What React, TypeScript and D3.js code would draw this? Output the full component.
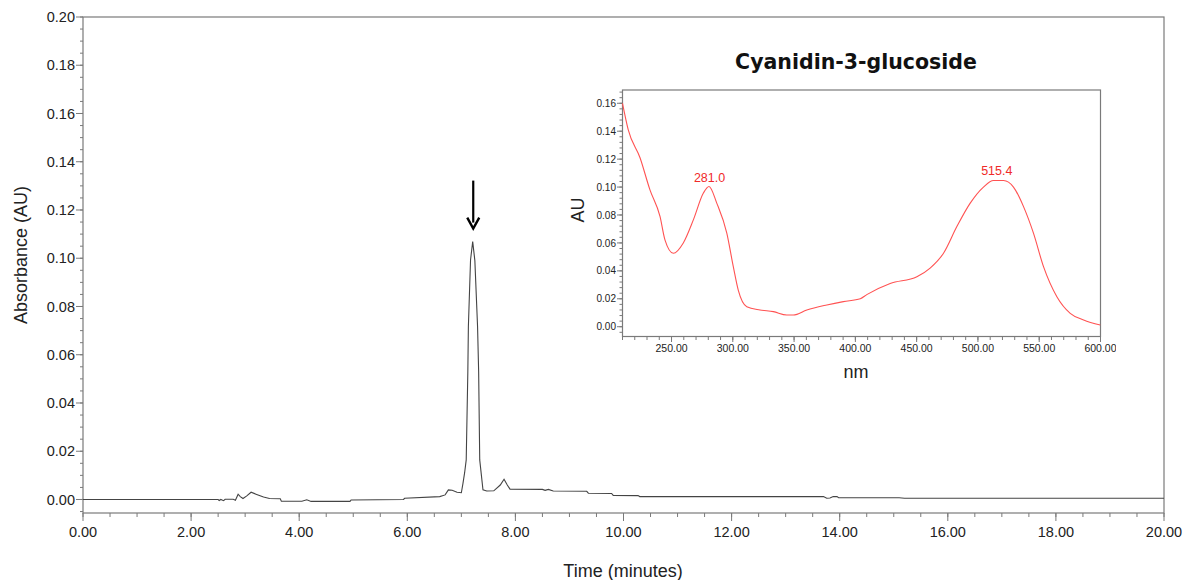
import React from "react";
import * as d3 from "d3";

// chromatogram (time in minutes, absorbance in AU)
const chromTime = [
  0, 2.5, 2.52, 2.55, 2.6, 2.63, 2.78, 2.82, 2.87, 2.91, 2.96, 3.03, 3.11, 3.2,
  3.34, 3.45, 3.65, 3.67, 4.05, 4.14, 4.22, 4.94, 4.96, 5.93, 5.95, 6.6, 6.7,
  6.76, 6.83, 6.92, 7.0, 7.03, 7.06, 7.09, 7.12, 7.13, 7.17, 7.21, 7.25, 7.3,
  7.32, 7.34, 7.4, 7.47, 7.6, 7.72, 7.79, 7.85, 7.9, 8.5, 8.55, 8.61, 8.7, 9.32,
  9.35, 9.78, 9.81, 10.27, 10.3, 13.7, 13.76, 13.82, 13.88, 13.95, 13.98, 15.1,
  15.2, 20,
];
const chromAbs = [
  0, 0, -0.0004, 0, -0.0005, 0.0001, 0.0001, -0.0003, 0.0022, 0.0012, 0.0004,
  0.0015, 0.003, 0.0022, 0.001, 0.0004, 0.0003, -0.0007, -0.0007, -0.0001,
  -0.0008, -0.0008, -0.0002, 0, 0.0005, 0.0012, 0.0019, 0.004, 0.0038, 0.003,
  0.0028, 0.0067, 0.011, 0.0164, 0.053, 0.0716, 0.0993, 0.1069, 0.099, 0.0716,
  0.053, 0.0164, 0.004, 0.0035, 0.0036, 0.006, 0.0084, 0.006, 0.0043, 0.0042,
  0.0038, 0.0042, 0.0035, 0.0034, 0.0026, 0.0025, 0.0017, 0.0016, 0.0012,
  0.0012, 0.0005, 0.0006, 0.0012, 0.0012, 0.0007, 0.0007, 0.0005, 0.0005,
];

// UV-Vis spectrum of the peak
const specNm = [
  210, 214.7, 224.3, 232.4, 240.6, 244.7, 251.5, 259.6, 267.8, 276, 280.6,
  286.9, 295.1, 300.4, 304.5, 311.4, 322.2, 333.1, 344, 349.4, 360.4, 376.7,
  390.2, 404, 409.3, 428.4, 450.2, 461, 471.9, 482.8, 493.7, 504.5, 512.7,
  520.9, 529, 537.2, 545.3, 553.5, 564.4, 575.3, 586.2, 599.8,
];
const specAbs = [
  0.16, 0.141, 0.121, 0.098, 0.079, 0.062, 0.0526, 0.06, 0.0765, 0.0957,
  0.1004, 0.0885, 0.067, 0.043, 0.026, 0.0143, 0.012, 0.0108, 0.0084, 0.0084,
  0.012, 0.0156, 0.018, 0.02, 0.023, 0.031, 0.0358, 0.042, 0.0526, 0.0717,
  0.0885, 0.1, 0.1047, 0.1047, 0.1, 0.086, 0.067, 0.043, 0.0215, 0.0096,
  0.0048, 0.0012,
];

const peakNm = [281.0, 515.4];
const peakAbs = [0.1004, 0.1047];
const peakLabels = ["281.0", "515.4"];

const mainXTicks = [0, 2, 4, 6, 8, 10, 12, 14, 16, 18, 20];
const mainYTicks = [0, 0.02, 0.04, 0.06, 0.08, 0.1, 0.12, 0.14, 0.16, 0.18, 0.2];
const insetXTicks = [250, 300, 350, 400, 450, 500, 550, 600];
const insetYTicks = [0, 0.02, 0.04, 0.06, 0.08, 0.1, 0.12, 0.14, 0.16];

const arrowTime = 7.22;

const AXIS = "#7a7a7a";
const TEXT = "#222";
const FONT = "'Liberation Sans', Arial, sans-serif";

export default function App() {
  const fmt = d3.format(".2f");

  // main chart
  const x = d3.scaleLinear().domain([0, 20]).range([83, 1164]);
  const y = d3.scaleLinear().domain([-0.0056, 0.2]).range([513, 17]);
  const chromLine = d3
    .line<number>()
    .x((d, i) => x(chromTime[i]))
    .y((d) => y(d));

  // inset
  const ix = d3.scaleLinear().domain([210, 600]).range([622.5, 1100.5]);
  const iy = d3.scaleLinear().domain([-0.007, 0.1695]).range([336.5, 90]);
  const specLine = d3
    .line<number>()
    .x((d, i) => ix(specNm[i]))
    .y((d) => iy(d))
    .curve(d3.curveMonotoneX);

  const xMinor = d3.range(0, 20.001, 0.5);
  const yMinor = d3.range(-0.005, 0.2001, 0.005);
  const ixMinor = d3.range(210, 600.01, 10);
  const iyMinor = d3.range(-0.004, 0.1681, 0.004);

  const peakIdx = chromAbs.indexOf(d3.max(chromAbs) as number);
  const ax = x(arrowTime);
  const aTop = y(chromAbs[peakIdx]) - 61;
  const aTip = y(chromAbs[peakIdx]) - 13;

  return (
    <svg
      width={1185}
      height={580}
      style={{ position: "absolute", left: 0, top: 0, background: "#fff" }}
      fontFamily={FONT}
    >
      <defs>
        <clipPath id="insetLabels">
          <rect x={560} y={330} width={556} height={40} />
        </clipPath>
      </defs>

      {/* main frame */}
      <rect x={83} y={17} width={1081} height={496} fill="none" stroke={AXIS} strokeWidth={1.2} />

      {/* main y ticks */}
      {yMinor.map((v, i) => (
        <line key={"ym" + i} x1={80} x2={83} y1={y(v)} y2={y(v)} stroke={AXIS} />
      ))}
      {mainYTicks.map((v) => (
        <g key={"y" + v}>
          <line x1={76} x2={83} y1={y(v)} y2={y(v)} stroke={AXIS} />
          <text x={75} y={y(v)} dy="0.36em" textAnchor="end" fontSize={14.5} fill={TEXT}>
            {fmt(v)}
          </text>
        </g>
      ))}

      {/* main x ticks */}
      {xMinor.map((v, i) => (
        <line key={"xm" + i} x1={x(v)} x2={x(v)} y1={513} y2={517} stroke={AXIS} />
      ))}
      {mainXTicks.map((v) => (
        <g key={"x" + v}>
          <line x1={x(v)} x2={x(v)} y1={513} y2={521} stroke={AXIS} />
          <text x={x(v)} y={537} textAnchor="middle" fontSize={14.5} fill={TEXT}>
            {fmt(v)}
          </text>
        </g>
      ))}

      <text x={623} y={577} textAnchor="middle" fontSize={18} fill={TEXT}>
        Time (minutes)
      </text>
      <text
        transform="translate(27,255) rotate(-90)"
        textAnchor="middle"
        fontSize={18}
        fill={TEXT}
      >
        Absorbance (AU)
      </text>

      {/* chromatogram trace */}
      <path d={chromLine(chromAbs) || ""} fill="none" stroke="#444" strokeWidth={1.1} />

      {/* arrow above main peak */}
      <line x1={ax} x2={ax} y1={aTop} y2={aTip - 6} stroke="#000" strokeWidth={2.2} />
      <path
        d={`M${ax - 6},${aTip - 11} L${ax},${aTip} L${ax + 6},${aTip - 11}`}
        fill="none"
        stroke="#000"
        strokeWidth={2.4}
      />

      {/* inset */}
      <text
        x={856}
        y={69}
        textAnchor="middle"
        fontSize={20.5}
        fontWeight="bold"
        fontFamily="'DejaVu Sans', Verdana, sans-serif"
        fill="#111"
      >
        Cyanidin-3-glucoside
      </text>
      <rect x={622.5} y={90} width={478} height={246.5} fill="none" stroke={AXIS} strokeWidth={1.2} />

      {iyMinor.map((v, i) => (
        <line key={"iym" + i} x1={619.5} x2={622.5} y1={iy(v)} y2={iy(v)} stroke={AXIS} />
      ))}
      {insetYTicks.map((v) => (
        <g key={"iy" + v}>
          <line x1={617} x2={622.5} y1={iy(v)} y2={iy(v)} stroke={AXIS} />
          <text x={616} y={iy(v)} dy="0.36em" textAnchor="end" fontSize={10} fill={TEXT}>
            {fmt(v)}
          </text>
        </g>
      ))}
      {ixMinor.map((v, i) => (
        <line key={"ixm" + i} x1={ix(v)} x2={ix(v)} y1={336.5} y2={340} stroke={AXIS} />
      ))}
      <g clipPath="url(#insetLabels)">
        {insetXTicks.map((v) => (
          <g key={"ix" + v}>
            <line x1={ix(v)} x2={ix(v)} y1={336.5} y2={342} stroke={AXIS} />
            <text x={ix(v)} y={352} textAnchor="middle" fontSize={10.5} fill={TEXT}>
              {fmt(v)}
            </text>
          </g>
        ))}
      </g>
      <text x={856} y={378} textAnchor="middle" fontSize={18} fill={TEXT}>
        nm
      </text>
      <text
        transform="translate(584,210) rotate(-90)"
        textAnchor="middle"
        fontSize={18}
        fill={TEXT}
      >
        AU
      </text>

      <path d={specLine(specAbs) || ""} fill="none" stroke="#ff5252" strokeWidth={1.1} />
      {peakNm.map((nm, i) => (
        <text
          key={"pk" + i}
          x={ix(nm)}
          y={iy(peakAbs[i]) - 5}
          textAnchor="middle"
          fontSize={12.5}
          fill="#f02a2a"
        >
          {peakLabels[i]}
        </text>
      ))}
    </svg>
  );
}
